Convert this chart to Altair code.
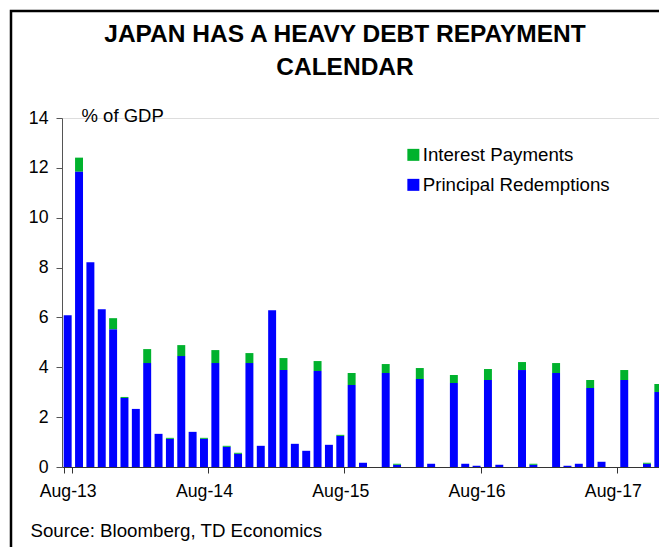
import altair as alt
import pandas as pd

months = ["Aug-13", "Sep-13", "Oct-13", "Nov-13", "Dec-13", "Jan-14", "Feb-14", "Mar-14", "Apr-14", "May-14", "Jun-14", "Jul-14",
          "Aug-14", "Sep-14", "Oct-14", "Nov-14", "Dec-14", "Jan-15", "Feb-15", "Mar-15", "Apr-15", "May-15", "Jun-15", "Jul-15",
          "Aug-15", "Sep-15", "Oct-15", "Nov-15", "Dec-15", "Jan-16", "Feb-16", "Mar-16", "Apr-16", "May-16", "Jun-16", "Jul-16",
          "Aug-16", "Sep-16", "Oct-16", "Nov-16", "Dec-16", "Jan-17", "Feb-17", "Mar-17", "Apr-17", "May-17", "Jun-17", "Jul-17",
          "Aug-17", "Sep-17", "Oct-17", "Nov-17", "Dec-17"]

principal = [6.09, 11.85, 8.21, 6.33, 5.53, 2.77, 2.33, 4.17, 1.33, 1.13, 4.45, 1.41,
             1.13, 4.17, 0.81, 0.53, 4.17, 0.85, 6.29, 3.89, 0.93, 0.65, 3.85, 0.89,
             1.25, 3.29, 0.17, 0.0, 3.77, 0.09, 0.0, 3.53, 0.13, 0.0, 3.37, 0.13,
             0.05, 3.49, 0.09, 0.0, 3.89, 0.09, 0.0, 3.77, 0.05, 0.13, 3.17, 0.21,
             0.0, 3.49, 0.0, 0.13, 3.01]

interest = [0.0, 0.56, 0.0, 0.0, 0.44, 0.04, 0.0, 0.56, 0.0, 0.04, 0.44, 0.0,
            0.04, 0.52, 0.04, 0.04, 0.40, 0.0, 0.0, 0.48, 0.0, 0.0, 0.40, 0.0,
            0.04, 0.48, 0.0, 0.0, 0.36, 0.04, 0.0, 0.44, 0.0, 0.0, 0.32, 0.0,
            0.0, 0.44, 0.0, 0.0, 0.32, 0.04, 0.0, 0.40, 0.0, 0.0, 0.32, 0.0,
            0.0, 0.40, 0.0, 0.04, 0.32]

series = ["Interest Payments", "Principal Redemptions"]
colors = ["#00B22D", "#0000FF"]
year_labels = ["Aug-13", "Aug-14", "Aug-15", "Aug-16", "Aug-17"]
y_ticks = [0, 2, 4, 6, 8, 10, 12, 14]

rows = []
for m, p, i in zip(months, principal, interest):
    if p > 0:
        rows.append({"month": m, "series": series[1], "value": p, "ord": 0})
    if i > 0:
        rows.append({"month": m, "series": series[0], "value": i, "ord": 1})
df = pd.DataFrame(rows)

FONT = "Liberation Sans"

bars = alt.Chart(df).mark_bar().encode(
    x=alt.X("month:N", sort=months,
            scale=alt.Scale(domain=months, range=[0, 602],
                            paddingInner=0.3, paddingOuter=0.15),
            axis=alt.Axis(values=year_labels, tickBand="extent", labelAngle=0,
                          labelFontSize=17.7, labelFont=FONT, labelColor="black",
                          labelPadding=9, tickSize=6, tickColor="#333333",
                          domainColor="#333333", domainWidth=1.2,
                          title="Source: Bloomberg, TD Economics",
                          titleFont=FONT, titleFontSize=18.7, titleFontWeight="normal",
                          titleColor="black", titleAlign="left", titleBaseline="alphabetic",
                          titleAnchor="start", titleX=-32, titleY=69.5)),
    y=alt.Y("value:Q", stack="zero",
            scale=alt.Scale(domain=[0, 14], nice=False),
            axis=alt.Axis(values=y_ticks, grid=False, labelFontSize=17.7, labelFont=FONT,
                          labelColor="black", labelPadding=8, tickSize=6,
                          tickColor="#555555", domainColor="#555555",
                          title="% of GDP", titleFont=FONT, titleFontSize=18.5,
                          titleFontWeight="normal", titleColor="black", titleAngle=0,
                          titleAlign="left", titleBaseline="alphabetic",
                          titleAnchor="start", titleX=19, titleY=3)),
    color=alt.Color("series:N",
                    scale=alt.Scale(domain=series, range=colors),
                    legend=alt.Legend(orient="none", legendX=342, legendY=27.5, title=None,
                                      symbolType="square", symbolSize=144,
                                      symbolStrokeWidth=0, labelFont=FONT,
                                      labelFontSize=18.7, labelColor="black",
                                      labelOffset=0, rowPadding=10, labelLimit=400)),
    order=alt.Order("ord:Q"),
)

frame = alt.Chart(pd.DataFrame({"a": [0]})).mark_rect(
    fill=None, stroke="black", strokeWidth=2.5
).encode(
    x=alt.value(-51), x2=alt.value(700),
    y=alt.value(-107), y2=alt.value(600),
)

chart = alt.layer(frame, bars).properties(
    width=597,
    height=349,
    autosize=alt.AutoSizeParams(type="none"),
    padding={"left": 54, "top": 110, "right": 0, "bottom": 80},
    title=alt.TitleParams(
        text=["JAPAN HAS A HEAVY DEBT REPAYMENT", "CALENDAR"],
        font=FONT, fontSize=24.5, fontWeight="bold", color="black",
        anchor="middle", frame="group", dx=-15.5, offset=-70.5, lineHeight=33,
    ),
).configure_view(stroke=None).configure(background="white")

chart.save("out.html", embed_options={"renderer": "svg", "actions": False})
